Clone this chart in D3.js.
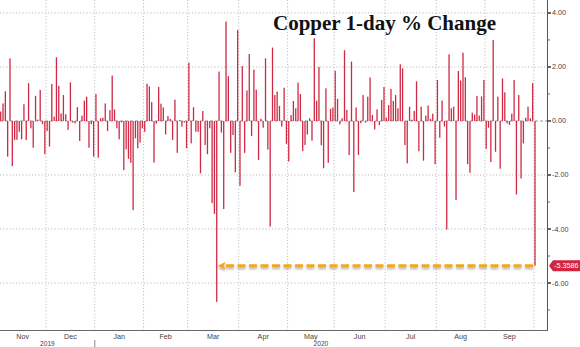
<!DOCTYPE html>
<html><head><meta charset="utf-8">
<script src="https://cdn.jsdelivr.net/npm/d3@7"></script>
<style>body{margin:0;background:#fff;} svg{display:block;}</style>
</head><body><svg id="c" width="580" height="347"></svg>
<script>
// ---- data ----
const startDate = "2019-11-01";
const endDate = "2020-10-01";
const holidays = ["2019-11-28","2019-12-25","2020-01-01","2020-01-20","2020-02-17","2020-04-10","2020-05-25","2020-07-03","2020-09-07"];
const values = [
 0.35,0.65,1.1,-1.32,2.32,-1.67,-0.7,-0.7,-0.4,-0.68,
 0.62,-0.7,1.4,-0.27,-0.99,0.93,0.05,1.15,-0.12,-1.23,
 -0.37,-0.95,1.37,0.16,2.36,1.3,0.28,0.96,0.25,-0.33,
 1.43,-0.06,-0.09,0.51,-0.74,0.2,0.75,0.9,-0.99,-0.12,
 -1.32,1.0,-1.36,0.1,0.12,0.65,-0.37,0.4,1.68,0.43,
 -0.27,-0.68,-0.05,-1.82,-1.05,-1.4,-1.55,-3.3,-0.64,-1.01,
 -0.8,-0.27,-0.4,1.38,1.28,0.7,-1.54,-0.1,1.26,0.64,
 0.5,-0.5,0.18,0.08,-0.7,0.79,-1.18,0.04,-0.21,-0.06,
 -1.01,2.16,-0.83,0.51,-0.4,-0.4,-1.94,0.37,-0.89,-1.23,
 -0.27,-3.04,-3.44,-6.7,1.83,-0.43,-3.26,3.68,1.66,-1.18,
 -0.52,-1.9,3.37,-2.4,2.03,-1.18,1.13,2.48,-0.56,1.9,
 1.16,-1.44,0.08,-0.25,2.32,-1.06,-3.91,2.72,0.96,1.09,
 0.56,-0.21,1.23,-0.85,-1.5,0.22,0.74,0.47,1.42,1.0,
 -1.12,-0.89,-0.5,0.1,-0.73,3.06,0.75,2.0,-0.9,-1.75,
 1.21,-1.55,0.45,0.5,1.86,0.82,-0.13,0.1,2.62,0.41,
 -1.26,2.2,-2.63,0.5,-1.26,-0.08,0.96,-0.06,0.9,1.61,
 0.22,-0.31,0.43,-0.15,0.78,1.26,0.13,0.59,1.19,0.74,
 0.96,0.47,2.1,1.95,-0.89,-1.57,0.53,0.05,0.37,1.47,
 -1.12,0.53,-1.47,0.2,0.57,0.08,0.27,-1.6,1.52,-0.62,
 0.76,-0.2,-4.02,2.47,0.47,0.53,-2.93,1.85,1.5,2.53,
 1.62,-1.6,-1.92,0.31,0.24,0.93,0.2,0.91,1.52,-1.03,
 -0.25,-1.52,3.0,-1.14,0.9,-1.77,1.58,1.06,-0.09,-0.15,
 0.27,1.52,-2.72,0.96,-2.13,-0.83,0.12,0.53,0.1,1.4,
 -5.3586
];
const yTicks = [4, 2, 0, -2, -4, -6];
const yMinorTicks = [3, 1, -1, -3, -5, -7];
const titleText = "Copper 1-day % Change";
const lastLabel = "-5.3586";

// ---- build trading-day categories ----
const parse = d3.utcParse("%Y-%m-%d");
const fmt = d3.utcFormat("%Y-%m-%d");
const hol = new Set(holidays);
const dates = d3.utcDay.range(parse(startDate), d3.utcDay.offset(parse(endDate), 1))
  .filter(d => d.getUTCDay() !== 0 && d.getUTCDay() !== 6 && !hol.has(fmt(d)));
const data = dates.map((d, i) => ({date: d, key: fmt(d), v: values[i]}));

// ---- layout ----
const W = 580, H = 347;
const plotR = 547, plotB = 330;
const svg = d3.select("#c");

const x = d3.scalePoint().domain(data.map(d => d.key)).range([0.7, 535]);
const step = x.step();
const y = d3.scaleLinear().domain([-7.74, 4.48]).range([plotB, 0]);

svg.append("defs").html(`
  <clipPath id="clip"><rect x="0" y="0" width="${plotR}" height="${plotB}"/></clipPath>
  <filter id="sh" x="-5%" y="-100%" width="110%" height="300%">
    <feDropShadow dx="0" dy="2" stdDeviation="1.2" flood-color="#777" flood-opacity="0.55"/>
  </filter>`);

// month boundaries
const monthStarts = data.filter((d, i) => i === 0 || d.date.getUTCMonth() !== data[i-1].date.getUTCMonth());
const bounds = monthStarts.map(d => x(d.key) - step / 2);
const gridG = svg.append("g");
gridG.selectAll("line.v").data(bounds.slice(1)).join("line")
  .attr("x1", d => d).attr("x2", d => d).attr("y1", 0).attr("y2", plotB)
  .attr("stroke", "#b4b4b4").attr("stroke-width", 1).attr("stroke-dasharray", "1,2.2");
gridG.selectAll("line.h").data(yTicks.filter(t => t !== 0)).join("line")
  .attr("x1", 0).attr("x2", plotR).attr("y1", d => y(d)).attr("y2", d => y(d))
  .attr("stroke", "#b4b4b4").attr("stroke-width", 1).attr("stroke-dasharray", "1,2.2");
gridG.append("line").attr("x1", 0).attr("x2", plotR).attr("y1", y(0)).attr("y2", y(0))
  .attr("stroke", "#9a9a9a").attr("stroke-width", 1).attr("stroke-dasharray", "3,2");

// bars
const bw = 1.3;
svg.append("g").attr("clip-path", "url(#clip)")
  .selectAll("rect").data(data).join("rect")
  .attr("x", d => x(d.key) - bw / 2)
  .attr("width", bw)
  .attr("y", d => y(Math.max(0, d.v)))
  .attr("height", d => Math.abs(y(d.v) - y(0)))
  .attr("fill", "#cf2a44");

// right axis
const ax = svg.append("g");
ax.append("line").attr("x1", plotR + 0.5).attr("x2", plotR + 0.5).attr("y1", 0).attr("y2", plotB)
  .attr("stroke", "#555").attr("stroke-width", 1);
ax.selectAll("line.mj").data(yTicks).join("line")
  .attr("x1", plotR).attr("x2", plotR + 4).attr("y1", d => y(d)).attr("y2", d => y(d))
  .attr("stroke", "#444").attr("stroke-width", 1.6);
ax.selectAll("line.mn").data(yMinorTicks).join("line")
  .attr("x1", plotR).attr("x2", plotR + 3).attr("y1", d => y(d)).attr("y2", d => y(d))
  .attr("stroke", "#666").attr("stroke-width", 1);
ax.selectAll("text").data(yTicks).join("text")
  .attr("x", plotR + 5).attr("y", d => y(d) + 2.5)
  .attr("font-family", "Liberation Sans, Arial, sans-serif").attr("font-size", 7.2)
  .attr("fill", "#444")
  .text(d => d3.format(".2f")(d).replace("−", "-"));

// bottom axis
svg.append("line").attr("x1", 0).attr("x2", plotR + 1).attr("y1", plotB + 0.5).attr("y2", plotB + 0.5)
  .attr("stroke", "#666").attr("stroke-width", 1);
const monthFmt = d3.utcFormat("%b");
const labelPos = monthStarts.map((d, i) => ({
  text: monthFmt(d.date),
  x: ((i === 0 ? bounds[0] : bounds[i]) + (i + 1 < bounds.length ? bounds[i + 1] : plotR)) / 2
})).filter(d => d.text !== "Oct");
svg.append("g").selectAll("text").data(labelPos).join("text")
  .attr("x", d => d.x).attr("y", 338.5).attr("text-anchor", "middle")
  .attr("font-family", "Liberation Sans, Arial, sans-serif").attr("font-size", 7.2)
  .attr("fill", "#444").text(d => d.text);

// year labels
const janB = bounds[monthStarts.findIndex(d => d.date.getUTCMonth() === 0)];
const years = [{t: "2019", x: (0 + janB) / 2}, {t: "2020", x: (janB + plotR) / 2}];
svg.append("g").selectAll("text").data(years).join("text")
  .attr("x", d => d.x).attr("y", 346.3).attr("text-anchor", "middle")
  .attr("font-family", "Liberation Sans, Arial, sans-serif").attr("font-size", 6.6)
  .attr("fill", "#444").text(d => d.t);
svg.append("line").attr("x1", janB).attr("x2", janB).attr("y1", 340).attr("y2", 347)
  .attr("stroke", "#888").attr("stroke-width", 1);

// title
svg.append("text").attr("x", 273).attr("y", 30)
  .attr("font-family", "Liberation Serif, Times New Roman, serif").attr("font-weight", "bold")
  .attr("font-size", 21).attr("fill", "#111").text(titleText);

// orange arrow from last bar to the minimum bar
const last = data[data.length - 1];
const minD = data.reduce((a, b) => (b.v < a.v ? b : a));
const ay = y(last.v);
const ag = svg.append("g").attr("filter", "url(#sh)");
ag.append("line").attr("x1", x(last.key) - 2).attr("x2", x(minD.key) + 6)
  .attr("y1", ay).attr("y2", ay)
  .attr("stroke", "#f5a71f").attr("stroke-width", 3).attr("stroke-dasharray", "8,3.5");
const ax0 = x(minD.key) + 1;
ag.append("path")
  .attr("d", `M${ax0},${ay} L${ax0 + 8},${ay - 4} L${ax0 + 6},${ay} L${ax0 + 8},${ay + 4} Z`)
  .attr("fill", "#f5a71f");

// last value label
const ly = y(last.v);
svg.append("path")
  .attr("d", `M${plotR + 2},${ly} L${plotR + 6},${ly - 5.5} L${W},${ly - 5.5} L${W},${ly + 5.5} L${plotR + 6},${ly + 5.5} Z`)
  .attr("fill", "#d3253e");
svg.append("text").attr("x", plotR + 7).attr("y", ly + 2.6)
  .attr("font-family", "Liberation Sans, Arial, sans-serif").attr("font-size", 7.2)
  .attr("fill", "#fff").text(lastLabel);
</script>
</body></html>
